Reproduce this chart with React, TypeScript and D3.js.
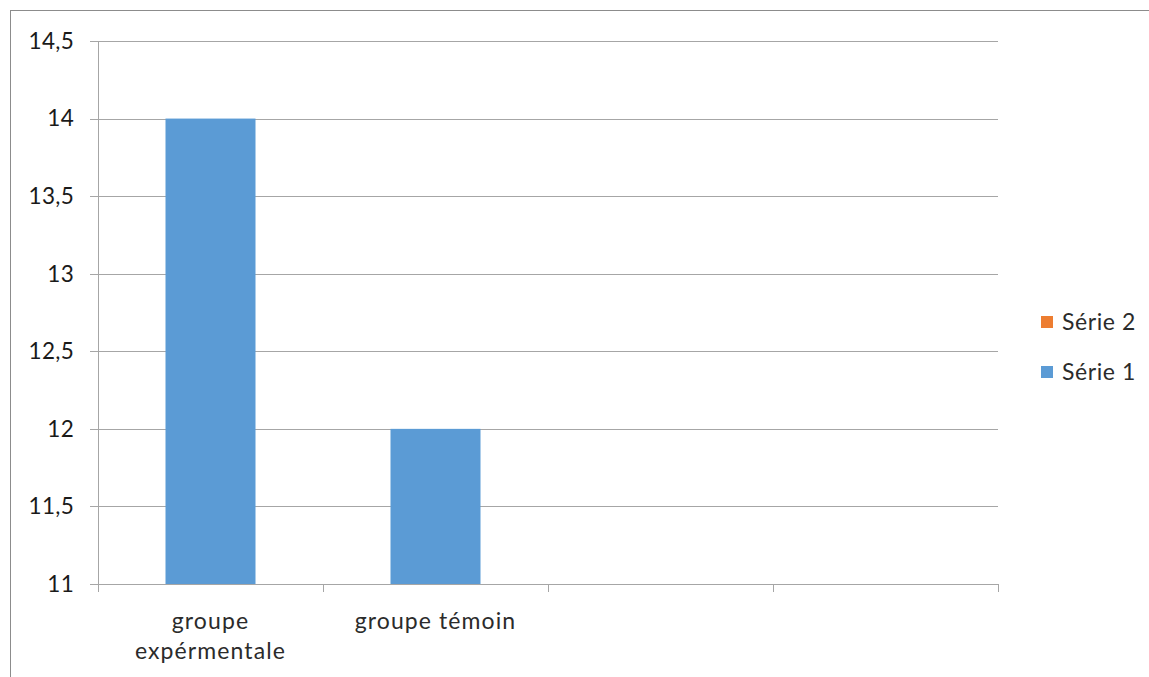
import React from "react";
import * as d3 from "d3";

const categories = ["groupe expérmentale", "groupe témoin", "", ""];
const serie1: (number | null)[] = [14, 12, null, null];
const serie2: (number | null)[] = [null, null, null, null];
const yTicks = [11, 11.5, 12, 12.5, 13, 13.5, 14, 14.5];
const legendItems = [
  { name: "Série 2", color: "#ED7D31" },
  { name: "Série 1", color: "#5B9BD5" },
];

const W = 1149;
const H = 677;
const plot = { left: 98, right: 998, top: 41, bottom: 584 };
const font = "Lato, 'Open Sans', sans-serif";

const fmt = (v: number) => String(v).replace(".", ",");

export default function App() {
  const x = d3
    .scaleBand<number>()
    .domain(d3.range(categories.length))
    .range([plot.left, plot.right])
    .paddingInner(0.6)
    .paddingOuter(0.3);
  const slot = d3
    .scaleBand<number>()
    .domain(d3.range(categories.length))
    .range([plot.left, plot.right]);
  const y = d3.scaleLinear().domain([11, 14.5]).range([plot.bottom, plot.top]);

  const boundaries = d3.range(categories.length + 1).map((i) =>
    i < categories.length ? slot(i)! : plot.right
  );

  const labelLines = (s: string) => {
    if (s === "groupe expérmentale") return ["groupe", "expérmentale"];
    return s ? [s] : [];
  };

  return (
    <svg
      width={W}
      height={H}
      style={{ position: "absolute", left: 0, top: 0, background: "#fff" }}
    >
      <rect x={10.5} y={10.5} width={1300} height={800} fill="#fff" stroke="#8c8c8c" />
      {/* gridlines */}
      {yTicks.map((t) => (
        <line
          key={t}
          x1={plot.left - 8}
          x2={plot.right}
          y1={Math.round(y(t)) + 0.5}
          y2={Math.round(y(t)) + 0.5}
          stroke="#a6a6a6"
        />
      ))}
      {yTicks.map((t) => (
        <text
          key={"l" + t}
          x={74}
          y={y(t)}
          dy="0.35em"
          textAnchor="end"
          fontFamily={font}
          fontSize={22.5}
          letterSpacing={0.3}
          fill="#1a1a1a"
        >
          {fmt(t)}
        </text>
      ))}
      {/* stacked bars */}
      {categories.map((_, i) => {
        const v1 = serie1[i];
        const v2 = serie2[i];
        const base = y.domain()[0];
        const top1 = v1 != null ? v1 : base;
        return (
          <g key={"b" + i}>
            {v1 != null && (
              <rect
                x={x(i)}
                y={y(top1)}
                width={x.bandwidth()}
                height={y(base) - y(top1)}
                fill="#5B9BD5"
              />
            )}
            {v2 != null && (
              <rect
                x={x(i)}
                y={y(top1 + v2)}
                width={x.bandwidth()}
                height={y(top1) - y(top1 + v2)}
                fill="#ED7D31"
              />
            )}
          </g>
        );
      })}
      {/* axes */}
      <line x1={plot.left + 0.5} x2={plot.left + 0.5} y1={plot.top} y2={plot.bottom} stroke="#a6a6a6" />
      <line x1={plot.left} x2={plot.right} y1={plot.bottom + 0.5} y2={plot.bottom + 0.5} stroke="#a6a6a6" />
      {boundaries.map((b, i) => (
        <line
          key={"t" + i}
          x1={Math.round(b) + 0.5}
          x2={Math.round(b) + 0.5}
          y1={plot.bottom}
          y2={plot.bottom + 8}
          stroke="#a6a6a6"
        />
      ))}
      {categories.map((c, i) =>
        labelLines(c).map((line, j) => (
          <text
            key={"c" + i + j}
            x={slot(i)! + slot.bandwidth() / 2}
            y={629 + j * 30}
            textAnchor="middle"
            fontFamily={font}
            fontSize={23}
            letterSpacing={1.1}
            fill="#2b2b2b"
          >
            {line}
          </text>
        ))
      )}
      {/* legend */}
      {legendItems.map((it, i) => (
        <g key={it.name} transform={`translate(1041, ${316 + i * 50})`}>
          <rect width={12} height={12} fill={it.color} />
          <text x={21} y={6} dy="0.36em" fontFamily={font} fontSize={23} letterSpacing={0.6} fill="#2b2b2b">
            {it.name}
          </text>
        </g>
      ))}
    </svg>
  );
}
